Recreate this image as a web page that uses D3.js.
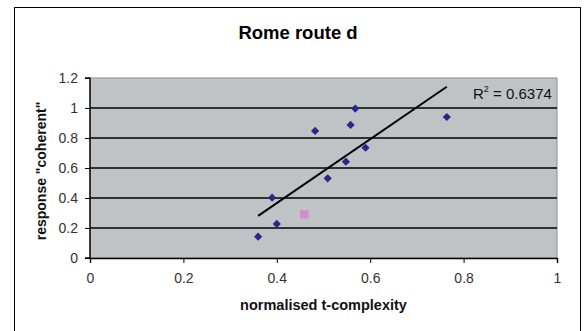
<!DOCTYPE html>
<html>
<head>
<meta charset="utf-8">
<script src="https://cdn.jsdelivr.net/npm/d3@7"></script>
<style>
  html, body { margin: 0; padding: 0; background: #fff; }
  svg { display: block; font-family: "Liberation Sans", Arial, sans-serif; }
</style>
</head>
<body>
<svg id="chart" width="587" height="331"></svg>
<script>
// Normalised t-complexity vs coherent responses, Rome route d
const complexity = [0.360, 0.390, 0.400, 0.459, 0.482, 0.509, 0.548, 0.558, 0.568, 0.590, 0.764];
const coherent   = [0.142, 0.402, 0.227, 0.291, 0.847, 0.531, 0.642, 0.887, 0.996, 0.735, 0.940];
// one point of the series is highlighted
const highlighted = [false, false, false, true, false, false, false, false, false, false, false];
const xTicks = [0, 0.2, 0.4, 0.6, 0.8, 1];
const yTicks = [0, 0.2, 0.4, 0.6, 0.8, 1, 1.2];
const rSquaredLabel = "0.6374";

const svg = d3.select("#chart");
const plot = { left: 90, right: 557, top: 78, bottom: 258 };

const x = d3.scaleLinear().domain([0, 1]).range([plot.left, plot.right]);
const y = d3.scaleLinear().domain([0, 1.2]).range([plot.bottom, plot.top]);

// chart area frame
svg.append("rect")
  .attr("x", 14.5).attr("y", 7.5)
  .attr("width", 566).attr("height", 340)
  .attr("fill", "#fff").attr("stroke", "#000").attr("stroke-width", 1);

// plot area
svg.append("rect")
  .attr("x", plot.left).attr("y", plot.top)
  .attr("width", plot.right - plot.left).attr("height", plot.bottom - plot.top)
  .attr("fill", "#c0c3c5").attr("stroke", "#8a8a8a").attr("stroke-width", 1);

// horizontal gridlines
svg.append("g").selectAll("line")
  .data(yTicks.filter(t => t > 0 && t < 1.2))
  .join("line")
  .attr("x1", plot.left).attr("x2", plot.right)
  .attr("y1", d => Math.round(y(d))).attr("y2", d => Math.round(y(d)))
  .attr("stroke", "#000").attr("stroke-width", 1.4);

// axes
const xAxis = d3.axisBottom(x).tickValues(xTicks).tickSize(5).tickPadding(10)
  .tickFormat(d3.format(""));
const yAxis = d3.axisLeft(y).tickValues(yTicks).tickSize(5).tickPadding(7)
  .tickFormat(d3.format(""));

const gx = svg.append("g").attr("transform", `translate(0,${plot.bottom})`).call(xAxis);
const gy = svg.append("g").attr("transform", `translate(${plot.left},0)`).call(yAxis);
[gx, gy].forEach(g => {
  g.select(".domain").attr("stroke", "#000").attr("stroke-width", 1.4);
  g.selectAll(".tick line").attr("stroke", "#000");
  g.selectAll(".tick text")
    .attr("font-family", "'Liberation Sans', Arial, sans-serif")
    .attr("font-size", 14).attr("fill", "#333");
});
gy.select(".domain").attr("d", `M-5,${plot.top}H0V${plot.bottom}H-5`);

// linear trend line (least squares over all points)
const n = complexity.length;
const mx = d3.mean(complexity), my = d3.mean(coherent);
let sxy = 0, sxx = 0;
for (let i = 0; i < n; i++) {
  sxy += (complexity[i] - mx) * (coherent[i] - my);
  sxx += (complexity[i] - mx) ** 2;
}
const slope = sxy / sxx, intercept = my - slope * mx;
const [xMin, xMax] = d3.extent(complexity);
svg.append("line")
  .attr("x1", x(xMin)).attr("y1", y(intercept + slope * xMin))
  .attr("x2", x(xMax)).attr("y2", y(intercept + slope * xMax))
  .attr("stroke", "#000").attr("stroke-width", 2);

// points: square-cornered diamonds, highlighted point as a square
const points = complexity.map((c, i) => ({ c, r: coherent[i], h: highlighted[i] }));
svg.append("g").selectAll("path")
  .data(points)
  .join("path")
  .attr("transform", d => `translate(${x(d.c)},${y(d.r)})` + (d.h ? "" : " rotate(45)"))
  .attr("d", d => d.h
    ? d3.symbol(d3.symbolSquare, 72)()
    : d3.symbol(d3.symbolSquare, 34)())
  .attr("fill", d => d.h ? "#d68bd0" : "#28288c");

// R² label
const r2 = svg.append("text")
  .attr("x", 473).attr("y", 99)
  .attr("font-size", 15).attr("fill", "#111");
r2.append("tspan").text("R");
r2.append("tspan").attr("font-size", 9).attr("dy", -7).text("2");
r2.append("tspan").attr("dy", 7).text(" = " + rSquaredLabel);

// title
svg.append("text")
  .attr("x", 298).attr("y", 39)
  .attr("text-anchor", "middle")
  .attr("font-size", 18.5).attr("font-weight", "bold").attr("fill", "#000")
  .text("Rome route d");

// axis titles
svg.append("text")
  .attr("x", (plot.left + plot.right) / 2).attr("y", 310)
  .attr("text-anchor", "middle")
  .attr("font-size", 14.5).attr("font-weight", "bold").attr("fill", "#111")
  .text("normalised t-complexity");

svg.append("text")
  .attr("transform", `translate(46,${(plot.top + plot.bottom) / 2 + 3}) rotate(-90)`)
  .attr("text-anchor", "middle")
  .attr("font-size", 14).attr("font-weight", "bold").attr("fill", "#111")
  .text("response \"coherent\"");
</script>
</body>
</html>
